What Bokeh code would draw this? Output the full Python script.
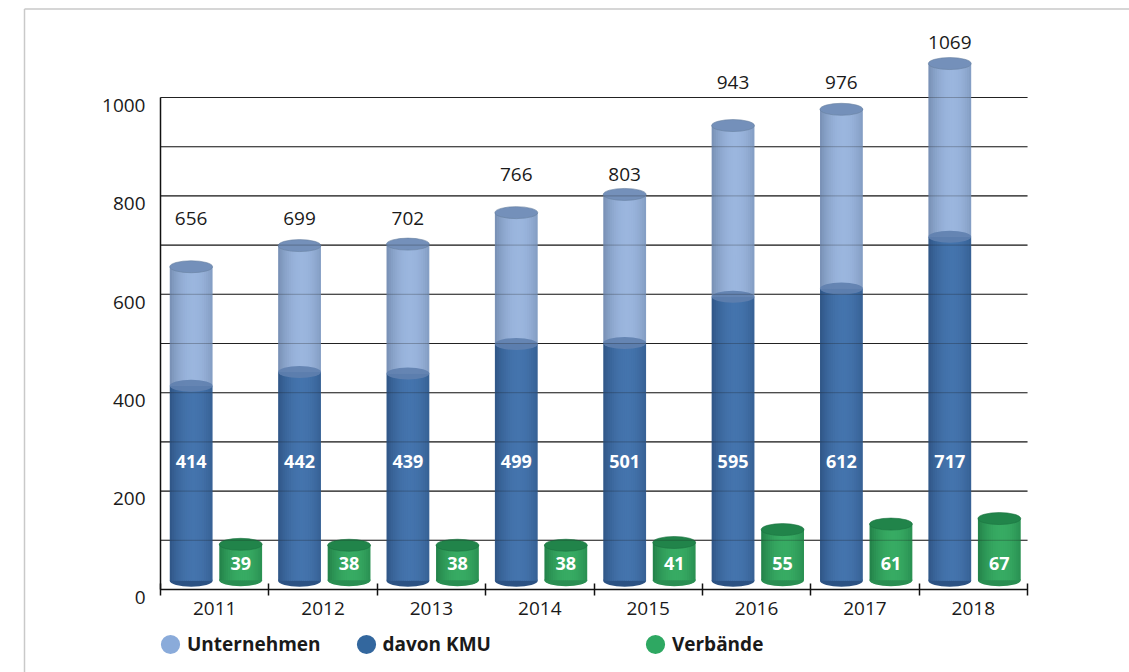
import numpy as np
from bokeh.plotting import figure
from bokeh.models import (Range1d, LinearAxis, FixedTicker, ColumnDataSource,
                          Legend, LegendItem)
from bokeh.embed import file_html
from bokeh.resources import INLINE
from bokeh.core.properties import value

# ---------------- data ----------------
years = ["2011", "2012", "2013", "2014", "2015", "2016", "2017", "2018"]
unternehmen = [656, 699, 702, 766, 803, 943, 976, 1069]
davon_kmu = [414, 442, 439, 499, 501, 595, 612, 717]
verbaende = [39, 38, 38, 38, 41, 55, 61, 67]
y_tick_values = [0, 200, 400, 600, 800, 1000]
grid_values = [100, 200, 300, 400, 500, 600, 700, 800, 900, 1000]
total_label_level = [754, 754, 754, 843, 843, 1030, 1030, 1112]

# ---------------- styling / geometry ----------------
FONT = "Open Sans"
W, H = 1129, 672
X0_PX, X8_PX = 160.0, 1027.0        # pixel of category edge 0 and 8
AXIS_PX = 589.0                      # pixel row of value 0
PX_PER_UNIT = 0.492                  # main axis pixels per unit
PX_PER_X = (X8_PX - X0_PX) / 8.0
X_START = -X0_PX / PX_PER_X
X_END = 8 + (W - X8_PX) / PX_PER_X
Y_START = -(H - AXIS_PX) / PX_PER_UNIT
Y_END = AXIS_PX / PX_PER_UNIT
LABEL_SHIFT = 16
G_SLOPE = 0.92
G_OFF = 9.3
G_START = (-(H - AXIS_PX) - G_OFF) / G_SLOPE
G_END = (AXIS_PX - G_OFF) / G_SLOPE
BLUE_BASE = 18
CYL_W = 0.395
BLUE_OFF = 0.283
GREEN_OFF = 0.74
N_STRIPS = 20
CAP_H = 12
KMU_LABEL_Y = 260
VER_LABEL_Y = 18.2


def px2x(px):
    return X_START + px / PX_PER_X


def px2y(py):
    return Y_END - py / PX_PER_UNIT


n = len(years)
blue_x = [i + BLUE_OFF for i in range(n)]
green_x = [i + GREEN_OFF for i in range(n)]


def hex2rgb(h):
    h = h.lstrip("#")
    return tuple(int(h[i:i + 2], 16) for i in (0, 2, 4))


def mix(a, b, s):
    ra, rb = hex2rgb(a), hex2rgb(b)
    return "#%02x%02x%02x" % tuple(int(round(x + (y - x) * s)) for x, y in zip(ra, rb))


def shade(t):
    return max(0.0, 1 - ((t - 0.55) / 0.62) ** 2)


def cylinder_strips(centers, bottoms, tops, edge, mid):
    L, R, B, T, C = [], [], [], [], []
    dw = CYL_W / N_STRIPS
    for c, b, t in zip(centers, bottoms, tops):
        x0 = c - CYL_W / 2
        for k in range(N_STRIPS):
            tt = (k + 0.5) / N_STRIPS
            L.append(x0 + k * dw)
            R.append(min(x0 + CYL_W, x0 + (k + 1.6) * dw))
            B.append(b)
            T.append(t)
            C.append(mix(edge, mid, shade(tt)))
    return ColumnDataSource(dict(left=L, right=R, bottom=B, top=T, color=C))


p = figure(width=W, height=H, x_range=Range1d(X_START, X_END), y_range=Range1d(Y_START, Y_END),
           output_backend="svg", toolbar_location=None, y_axis_location=None,
           min_border=0)
p.outline_line_color = None
p.background_fill_color = "white"
p.border_fill_color = "white"
p.extra_y_ranges = {"lab": Range1d(Y_START + LABEL_SHIFT, Y_END + LABEL_SHIFT),
                    "ver": Range1d(G_START, G_END)}
p.xgrid.visible = False
for g in p.ygrid:
    g.visible = False

# outer grey frame of the picture
p.segment(x0=[px2x(24), px2x(24)], y0=[px2y(8.5), px2y(8.5)],
          x1=[px2x(24), X_END], y1=[Y_START, px2y(8.5)],
          line_color="#c9c9c9", line_width=1.5)

# horizontal grid lines (plot area only), under the cylinders
ng = len(grid_values)
p.segment(x0=[0] * ng, y0=grid_values, x1=[8] * ng, y1=grid_values,
          line_color="#262626", line_width=1.1)

# y axis (labels only, slightly shifted)
yax = LinearAxis(y_range_name="lab", ticker=FixedTicker(ticks=y_tick_values),
                 fixed_location=0,
                 axis_line_color=None, major_tick_line_color=None,
                 minor_tick_line_color=None, major_label_standoff=9,
                 major_label_text_font=FONT, major_label_text_font_size="19px",
                 major_label_text_color="#1a1a1a")
p.add_layout(yax, "left")

# x axis
xa = p.xaxis[0]
xa.fixed_location = 0
xa.bounds = (0, 8)
xa.ticker = FixedTicker(ticks=[i + 0.5 for i in range(n)], minor_ticks=list(range(n + 1)))
xa.major_label_overrides = {i + 0.5: years[i] for i in range(n)}
xa.major_tick_in = 0
xa.major_tick_out = 0
xa.minor_tick_in = 6
xa.minor_tick_out = 6
xa.minor_tick_line_color = "#111111"
xa.minor_tick_line_width = 1.5
xa.axis_line_color = "#111111"
xa.axis_line_width = 1.5
xa.major_label_standoff = 6
xa.major_label_text_font = FONT
xa.major_label_text_font_size = "19px"
xa.major_label_text_color = "#1a1a1a"

# left axis line (0..1000)
p.segment(x0=[0], y0=[0], x1=[0], y1=[max(y_tick_values)], line_color="#111111", line_width=1.5)

# ---------------- cylinders ----------------
p.ellipse(x=blue_x, y=[BLUE_BASE] * n, width=CYL_W, height=CAP_H, height_units="screen",
          fill_color="#2c5283", line_color=None)
p.ellipse(x=green_x, y=[0] * n, width=CYL_W, height=CAP_H, height_units="screen",
          fill_color="#2a8e52", line_color=None, y_range_name="ver")

p.quad(source=cylinder_strips(blue_x, [BLUE_BASE] * n, davon_kmu, "#2a4d7b", "#4474ad"),
       left="left", right="right", bottom="bottom", top="top",
       fill_color="color", line_color=None)
p.quad(source=cylinder_strips(blue_x, davon_kmu, unternehmen, "#6d84a8", "#9bb6de"),
       left="left", right="right", bottom="bottom", top="top",
       fill_color="color", line_color=None)
p.ellipse(x=blue_x, y=unternehmen, width=CYL_W, height=CAP_H, height_units="screen",
          fill_color="#7490ba", line_color="#66809f", line_width=0.6)
p.ellipse(x=blue_x, y=davon_kmu, width=CYL_W, height=CAP_H, height_units="screen",
          fill_color="#5f80ae", fill_alpha=0.9, line_color=None)

p.quad(source=cylinder_strips(green_x, [0] * n, verbaende, "#1d7541", "#37ab63"),
       left="left", right="right", bottom="bottom", top="top",
       fill_color="color", line_color=None, y_range_name="ver")
p.ellipse(x=green_x, y=verbaende, width=CYL_W, height=CAP_H, height_units="screen",
          fill_color="#21844a", line_color="#1b723f", line_width=0.6, y_range_name="ver")

# grid lines faintly visible through the cylinders
p.segment(x0=[0] * ng, y0=grid_values, x1=[8] * ng, y1=grid_values,
          line_color="#1a1a1a", line_alpha=0.28, line_width=1.0)

# ---------------- labels ----------------
p.text(x=blue_x, y=total_label_level, text=[str(v) for v in unternehmen],
       text_align="center", text_baseline="middle", text_font=value(FONT),
       text_font_size="19px", text_color="#1a1a1a")
p.text(x=blue_x, y=[KMU_LABEL_Y] * n, text=[str(v) for v in davon_kmu],
       text_align="center", text_baseline="middle", text_font=value(FONT),
       text_font_size="18px", text_font_style="bold", text_color="white")
p.text(x=green_x, y=[VER_LABEL_Y] * n, text=[str(v) for v in verbaende],
       text_align="center", text_baseline="middle", text_font=value(FONT),
       text_font_size="18px", text_font_style="bold", text_color="white",
       y_range_name="ver")

# ---------------- legend ----------------
def legend_dot(color, alpha=1.0):
    return p.ellipse(x=[X_START - 5], y=[Y_START - 50], width=20, height=20, width_units="screen",
                     height_units="screen", fill_color=color, fill_alpha=alpha,
                     line_color=None, line_alpha=0)

r1 = legend_dot("#8aabda")
r2 = legend_dot("#33679e")
r_dummy = legend_dot("#ffffff", 0.0)
r3 = legend_dot("#2ea862")
legend = Legend(items=[LegendItem(label="Unternehmen", renderers=[r1]),
                       LegendItem(label="davon KMU", renderers=[r2]),
                       LegendItem(label="\u2003\u2003\u2003", renderers=[r_dummy]),
                       LegendItem(label="Verbände", renderers=[r3])],
                orientation="horizontal", location=(158, 15),
                glyph_width=24, glyph_height=24, label_standoff=5, spacing=33,
                padding=0, margin=0, border_line_color=None,
                background_fill_alpha=0, label_text_font=FONT,
                label_text_font_size="19px", label_text_font_style="bold",
                label_text_color="#1a1a1a", label_height=24)
p.add_layout(legend)

open("out.html", "w").write(file_html(p, INLINE))
